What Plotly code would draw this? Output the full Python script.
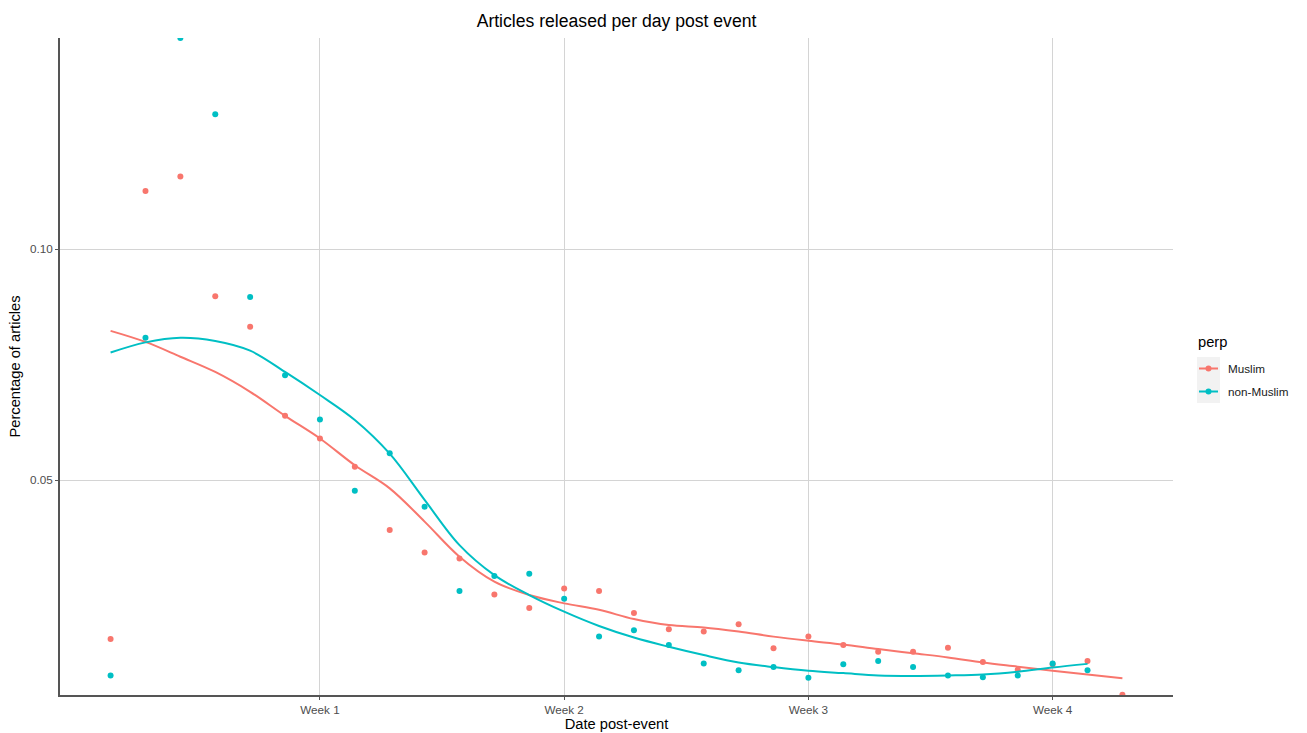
import plotly.graph_objects as go

# Days after the event
days = list(range(1, 31))

# Share of articles per day
muslim_pct = [0.0156, 0.1126, 0.1157, 0.0898, 0.0832, 0.0639, 0.0590, 0.0529, 0.0392, 0.0343,
              0.0330, 0.0252, 0.0223, 0.0265, 0.0260, 0.0212, 0.0177, 0.0172, 0.0188, 0.0136,
              0.0161, 0.0143, 0.0128, 0.0128, 0.0137, 0.0106, 0.0089, 0.0101, 0.0108, 0.0035]
non_muslim_pct = [0.0077, 0.0808, 0.1457, 0.1292, 0.0896, 0.0727, 0.0631, 0.0477, 0.0558, 0.0442,
                  0.0260, 0.0292, 0.0297, 0.0243, 0.0161, 0.0175, 0.0143, 0.0103, 0.0088, 0.0095,
                  0.0072, 0.0101, 0.0108, 0.0095, 0.0077, 0.0073, 0.0077, 0.0103, 0.0088]

# Smoothed trend per day
muslim_smooth = [0.0823, 0.0799, 0.0767, 0.0734, 0.0691, 0.0639, 0.0590, 0.0532, 0.0482, 0.0410,
                 0.0334, 0.0280, 0.0251, 0.0233, 0.0219, 0.0199, 0.0186, 0.0181, 0.0172, 0.0161,
                 0.0152, 0.0144, 0.0134, 0.0125, 0.0116, 0.0105, 0.0096, 0.0087, 0.0079, 0.0071]
non_muslim_smooth = [0.0776, 0.0798, 0.0808, 0.0801, 0.0780, 0.0734, 0.0684, 0.0630, 0.0557, 0.0457,
                     0.0359, 0.0294, 0.0251, 0.0215, 0.0184, 0.0159, 0.0139, 0.0121, 0.0105, 0.0095,
                     0.0087, 0.0082, 0.0077, 0.0076, 0.0077, 0.0079, 0.0085, 0.0094, 0.0102]

week_ticks = [7, 14, 21, 28]
week_labels = ["Week 1", "Week 2", "Week 3", "Week 4"]

RED = "#F8766D"
TEAL = "#00BFC4"

W, H = 1307, 733
ML, MR, MT, MB = 60, 134, 38, 38
PW, PH = W - ML - MR, H - MT - MB

FONT = "Liberation Sans, Arial, sans-serif"
SMALL = 11.7   # tick / legend labels
MEDIUM = 14.7  # axis / legend titles
LARGE = 17.6   # plot title


def px_x(px):
    """Pixel column -> paper x."""
    return (px - ML) / PW


def px_y(py):
    """Pixel row -> paper y."""
    return (H - MB - py) / PH


fig = go.Figure()

series = [
    ("Muslim", muslim_pct, muslim_smooth, RED),
    ("non-Muslim", non_muslim_pct, non_muslim_smooth, TEAL),
]
for name, pts, smooth, col in series:
    fig.add_trace(go.Scatter(
        x=days[:len(pts)], y=pts, mode="markers", name=name,
        showlegend=False, marker=dict(color=col, size=6),
    ))
    fig.add_trace(go.Scatter(
        x=days[:len(smooth)], y=smooth, mode="lines", name=name, showlegend=False,
        line=dict(color=col, width=2, shape="spline", smoothing=1.0),
    ))

# Legend drawn by hand: title, grey key boxes, line + dot keys, labels
annotations = [dict(
    text="perp", xref="paper", yref="paper", x=px_x(1196), y=px_y(342),
    xanchor="left", yanchor="middle", showarrow=False,
    font=dict(size=MEDIUM, color="#000000"),
)]
shapes = []
key_top = 357
for i, (name, _, _, col) in enumerate(series):
    y0 = key_top + i * 23
    yc = y0 + 11.5
    shapes.append(dict(type="rect", xref="paper", yref="paper",
                       x0=px_x(1197), x1=px_x(1220), y0=px_y(y0 + 23), y1=px_y(y0),
                       fillcolor="#F2F2F2", line=dict(width=0), layer="below"))
    shapes.append(dict(type="line", xref="paper", yref="paper",
                       x0=px_x(1199), x1=px_x(1218), y0=px_y(yc), y1=px_y(yc),
                       line=dict(color=col, width=2)))
    shapes.append(dict(type="circle", xref="paper", yref="paper",
                       x0=px_x(1205.5), x1=px_x(1211.5), y0=px_y(yc + 3), y1=px_y(yc - 3),
                       fillcolor=col, line=dict(width=0)))
    annotations.append(dict(
        text=name, xref="paper", yref="paper", x=px_x(1226), y=px_y(yc),
        xanchor="left", yanchor="middle", showarrow=False,
        font=dict(size=SMALL, color="#1a1a1a"),
    ))

fig.update_layout(
    width=W, height=H,
    margin=dict(l=ML, r=MR, t=MT, b=MB, autoexpand=False),
    paper_bgcolor="white", plot_bgcolor="white",
    font=dict(family=FONT, color="#000000"),
    title=dict(text="Articles released per day post event", x=(ML + W - MR) / 2 / W,
               xanchor="center", y=1 - 21 / H, yanchor="middle",
               font=dict(size=LARGE, color="#000000")),
    showlegend=False,
    shapes=shapes,
    annotations=annotations,
)

fig.update_xaxes(
    range=[-0.45, 31.45], tickmode="array", tickvals=week_ticks, ticktext=week_labels,
    showgrid=True, gridcolor="#D4D4D4", gridwidth=1, zeroline=False,
    showline=True, linecolor="#555555", linewidth=2,
    ticks="outside", ticklen=3, tickcolor="#555555",
    tickfont=dict(size=SMALL, color="#4D4D4D"), automargin=False,
    title=dict(text="Date post-event", font=dict(size=MEDIUM, color="#000000"), standoff=3),
)
fig.update_yaxes(
    range=[0.00346, 0.1457], tickmode="array", tickvals=[0.05, 0.10], ticktext=["0.05", "0.10"],
    showgrid=True, gridcolor="#D4D4D4", gridwidth=1, zeroline=False,
    showline=True, linecolor="#555555", linewidth=2,
    ticks="outside", ticklen=3, tickcolor="#555555",
    tickfont=dict(size=SMALL, color="#4D4D4D"), automargin=False,
    title=dict(text="Percentage of articles", font=dict(size=MEDIUM, color="#000000"), standoff=6),
)

fig.write_html("out.html")
